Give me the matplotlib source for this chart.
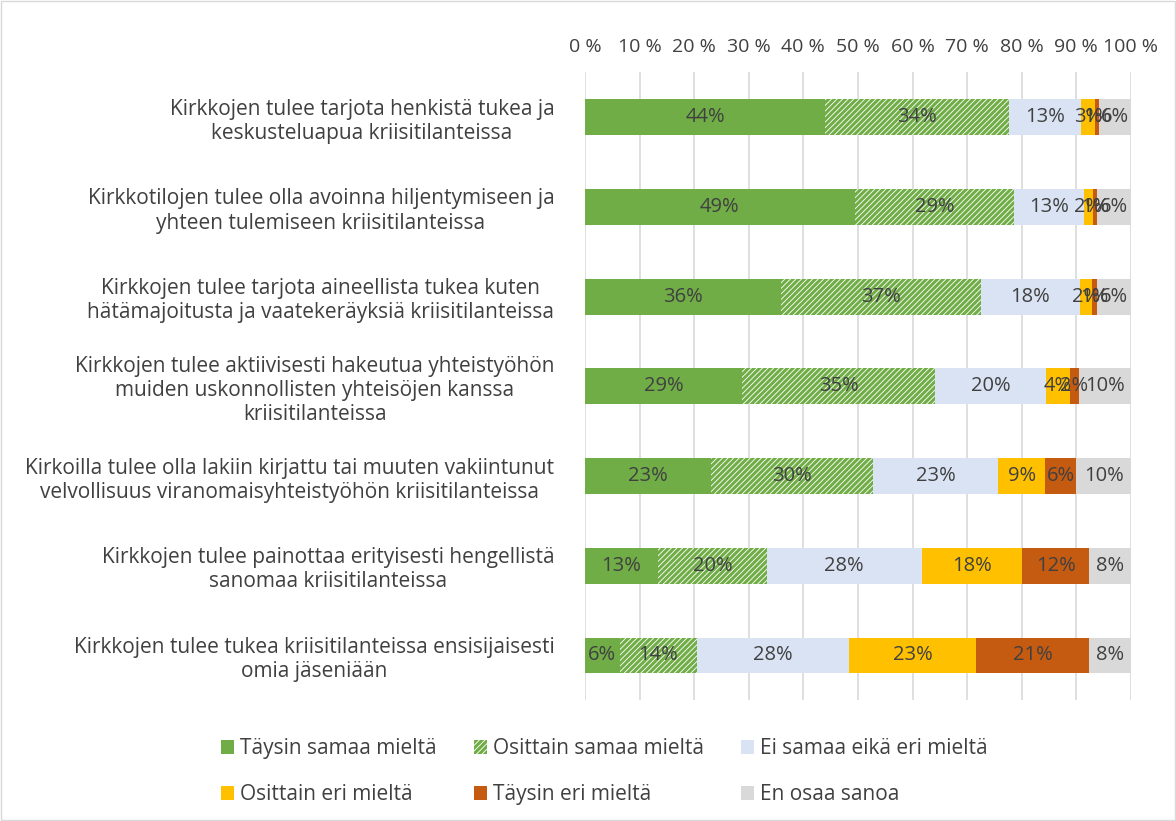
import matplotlib.pyplot as plt
from matplotlib.patches import Rectangle

plt.rcParams['font.family'] = ['Open Sans', 'DejaVu Sans']
plt.rcParams['hatch.linewidth'] = 2.2

# kysymykset ylhäältä alas
kysymykset = [
    "Kirkkojen tulee tarjota henkistä tukea ja\nkeskusteluapua kriisitilanteissa",
    "Kirkkotilojen tulee olla avoinna hiljentymiseen ja\nyhteen tulemiseen kriisitilanteissa",
    "Kirkkojen tulee tarjota aineellista tukea kuten\nhätämajoitusta ja vaatekeräyksiä kriisitilanteissa",
    "Kirkkojen tulee aktiivisesti hakeutua yhteistyöhön\nmuiden uskonnollisten yhteisöjen kanssa\nkriisitilanteissa",
    "Kirkoilla tulee olla lakiin kirjattu tai muuten vakiintunut\nvelvollisuus viranomaisyhteistyöhön kriisitilanteissa",
    "Kirkkojen tulee painottaa erityisesti hengellistä\nsanomaa kriisitilanteissa",
    "Kirkkojen tulee tukea kriisitilanteissa ensisijaisesti\nomia jäseniään",
]

vastaukset = ["Täysin samaa mieltä", "Osittain samaa mieltä", "Ei samaa eikä eri mieltä",
              "Osittain eri mieltä", "Täysin eri mieltä", "En osaa sanoa"]

taysin_samaa = [44.0, 49.4, 35.9, 28.8, 23.1, 13.4, 6.4]
osittain_samaa = [33.7, 29.2, 36.6, 35.3, 29.6, 19.9, 14.1]
ei_samaa_eika_eri = [13.2, 12.8, 18.1, 20.3, 23.0, 28.4, 27.8]
osittain_eri = [2.6, 1.6, 2.2, 4.4, 8.6, 18.4, 23.4]
taysin_eri = [0.7, 0.8, 0.9, 1.6, 5.7, 12.3, 20.6]
en_osaa = [5.8, 6.2, 6.3, 9.6, 10.0, 7.6, 7.7]

sarjat = [taysin_samaa, osittain_samaa, ei_samaa_eika_eri, osittain_eri, taysin_eri, en_osaa]
varit = ["#70AD47", "white", "#DAE3F3", "#FFC000", "#C55A11", "#D9D9D9"]
tekstivari = "#404040"

fig = plt.figure(figsize=(11.76, 8.21), dpi=100)
ax = fig.add_axes([0.4974, 0.147, 0.4643, 0.765])

y = list(range(len(kysymykset)))
vasen = [0.0] * len(kysymykset)
kahvat = []
for i, (arvot, vari) in enumerate(zip(sarjat, varit)):
    if i == 1:
        bars = ax.barh(y, arvot, left=vasen, height=0.4, color="white",
                       edgecolor="#70AD47", hatch="//////", linewidth=0, label=vastaukset[i])
    else:
        bars = ax.barh(y, arvot, left=vasen, height=0.4, color=vari,
                       linewidth=0, label=vastaukset[i])
    kahvat.append(bars)
    for j, (v, l) in enumerate(zip(arvot, vasen)):
        ax.text(l + v / 2, j, f"{v:.0f}%", ha="center", va="center",
                fontsize=14.5, color=tekstivari)
    vasen = [a + b for a, b in zip(vasen, arvot)]

ax.set_ylim(len(kysymykset) - 0.5, -0.5)
ax.set_xlim(0, 100)
ax.set_yticks(y)
ax.set_yticklabels(kysymykset, fontsize=15, color=tekstivari)
for t in ax.get_yticklabels():
    t.set_multialignment("center")
ax.xaxis.tick_top()
ax.set_xticks(range(0, 101, 10))
ax.set_xticklabels([f"{v} %" for v in range(0, 101, 10)], fontsize=14, color=tekstivari)
ax.tick_params(length=0, pad=22)
ax.tick_params(axis="x", pad=12)
ax.grid(axis="x", color="#D9D9D9", linewidth=1.2)
ax.set_axisbelow(True)
for s in ax.spines.values():
    s.set_visible(False)

jarj = [0, 3, 1, 4, 2, 5]
fig.legend([kahvat[k] for k in jarj], [vastaukset[k] for k in jarj], ncol=3,
           loc="center", bbox_to_anchor=(0.514, 0.06), frameon=False,
           fontsize=15, labelcolor=tekstivari, handlelength=0.6, handleheight=0.6,
           handletextpad=0.3, columnspacing=1.8, labelspacing=1.2)

fig.patches.append(Rectangle((0.001, 0.001), 0.998, 0.998, transform=fig.transFigure,
                             fill=False, edgecolor="#D9D9D9", linewidth=1))

fig.savefig("out.png", dpi=100)
